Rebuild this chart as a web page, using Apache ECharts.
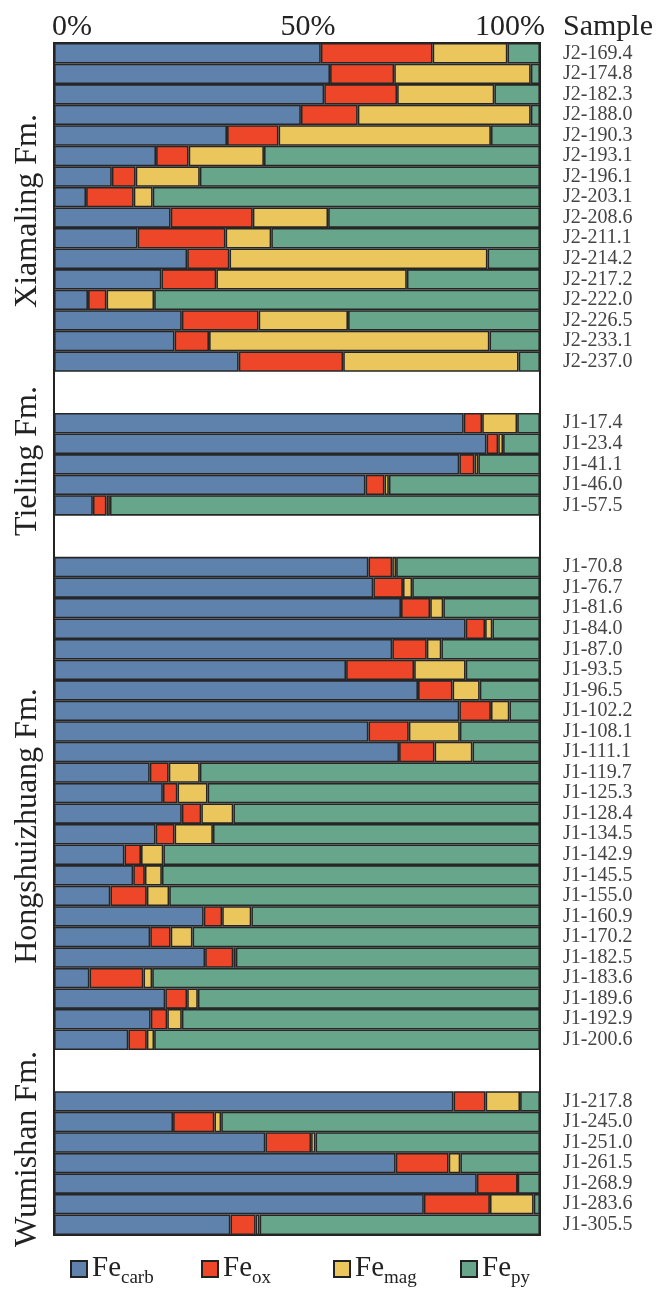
<!DOCTYPE html>
<html>
<head>
<meta charset="utf-8">
<script src="https://cdn.jsdelivr.net/npm/echarts@6/dist/echarts.min.js"></script>
<style>
html,body{margin:0;padding:0;background:#fff;}
#chart{width:660px;height:1290px;}
</style>
</head>
<body>
<div id="chart"></div>
<script>
// Sample names (blank entries are the gaps between formations)
const samples = [
  'J2-169.4','J2-174.8','J2-182.3','J2-188.0','J2-190.3','J2-193.1','J2-196.1','J2-203.1',
  'J2-208.6','J2-211.1','J2-214.2','J2-217.2','J2-222.0','J2-226.5','J2-233.1','J2-237.0',
  ' ','  ',
  'J1-17.4','J1-23.4','J1-41.1','J1-46.0','J1-57.5',
  '   ','    ',
  'J1-70.8','J1-76.7','J1-81.6','J1-84.0','J1-87.0','J1-93.5','J1-96.5','J1-102.2',
  'J1-108.1','J1-111.1','J1-119.7','J1-125.3','J1-128.4','J1-134.5','J1-142.9','J1-145.5',
  'J1-155.0','J1-160.9','J1-170.2','J1-182.5','J1-183.6','J1-189.6','J1-192.9','J1-200.6',
  '     ','      ',
  'J1-217.8','J1-245.0','J1-251.0','J1-261.5','J1-268.9','J1-283.6','J1-305.5'
];

// Fe speciation (% of highly reactive Fe)
const feCarb = [
  54.9,56.8,55.6,50.8,35.6,21.0,11.9,6.6,24.0,17.2,27.4,22.1,7.0,26.3,24.8,38.0,
  null,null,
  84.3,89.0,83.4,64.1,8.0,
  null,null,
  64.7,65.7,71.4,84.7,69.6,60.1,74.9,83.4,64.7,71.0,19.7,22.4,26.3,20.9,14.5,16.3,
  11.6,30.8,19.8,31.1,7.3,22.9,19.9,15.3,
  null,null,
  82.2,24.5,43.5,70.3,87.0,76.1,36.3
];
const feOx = [
  23.0,13.2,15.0,11.7,10.6,6.7,4.9,9.8,16.9,18.1,8.7,11.3,3.8,15.8,7.1,21.5,
  null,null,
  3.8,2.4,3.1,3.9,2.8,
  null,null,
  4.9,6.1,6.0,4.0,7.1,14.0,7.1,6.5,8.3,7.3,3.9,3.0,4.0,3.9,3.4,2.4,
  7.5,3.8,4.2,5.8,11.1,4.5,3.4,3.8,
  null,null,
  6.6,8.5,9.4,10.9,8.4,13.6,5.2
];
const feMag = [
  15.4,28.1,20.0,35.6,43.7,15.5,13.2,3.9,15.5,9.4,53.1,39.2,9.8,18.4,57.7,36.1,
  null,null,
  7.2,1.0,0.8,0.9,0.7,
  null,null,
  0.8,1.9,2.7,1.5,3.0,10.6,5.6,3.8,10.5,7.8,6.4,6.2,6.6,7.9,4.6,3.5,
  4.6,6.0,4.5,0.5,1.8,2.2,3.0,1.5,
  null,null,
  7.1,1.4,0.9,2.4,0,9.0,0.8
];
const fePy = [
  6.7,1.9,9.4,1.9,10.1,56.8,70.0,79.7,43.6,55.3,10.8,27.4,79.4,39.5,10.4,4.4,
  null,null,
  4.7,7.6,12.7,31.1,88.5,
  null,null,
  29.6,26.3,19.9,9.8,20.3,15.3,12.4,6.3,16.5,13.9,70.0,68.4,63.1,67.3,77.5,77.8,
  76.3,59.4,71.5,62.6,79.8,70.4,73.7,79.4,
  null,null,
  4.1,65.6,46.2,16.4,4.6,1.3,57.7
];

const seriesNames = ['Fecarb','Feox','Femag','Fepy'];
const seriesColors = ['#5f82ad','#ee4629','#eac65c','#67a68a'];
const seriesData = [feCarb, feOx, feMag, fePy];

const xTickLabels = {0:'{a|0%}', 50:'{b|50%}', 100:'{c|100%}'};

const formations = [
  {name:'Xiamaling Fm.', y:211},
  {name:'Tieling Fm.', y:461},
  {name:'Hongshuizhuang Fm.', y:826},
  {name:'Wumishan Fm.', y:1149}
];

const SERIF = '"Liberation Serif", "DejaVu Serif", serif';

const chart = echarts.init(document.getElementById('chart'), null, {renderer:'canvas'});

const legendLefts = [65, 196, 328, 455];

const option = {
  backgroundColor:'#ffffff',
  animation:false,
  grid:{left:54, top:43, width:486, height:1192, show:true, borderColor:'#222', borderWidth:2, backgroundColor:'transparent'},
  xAxis:{
    type:'value', position:'top', min:0, max:100, interval:50,
    axisLine:{show:false}, axisTick:{show:false}, splitLine:{show:false},
    axisLabel:{
      margin:1, color:'#222', fontFamily:SERIF, fontSize:30, verticalAlign:'bottom',
      formatter:function(v){ return xTickLabels[v] || ''; },
      rich:{
        a:{fontFamily:SERIF, fontSize:30, color:'#222', padding:[0,0,0,36]},
        b:{fontFamily:SERIF, fontSize:30, color:'#222', padding:[0,0,0,22]},
        c:{fontFamily:SERIF, fontSize:30, color:'#222', padding:[0,60,0,0]}
      }
    }
  },
  yAxis:{
    type:'category', data:samples, inverse:true, position:'right',
    axisLine:{show:false}, axisTick:{show:false}, splitLine:{show:false},
    axisLabel:{margin:23, color:'#444', fontFamily:SERIF, fontSize:20, interval:0}
  },
  legend: seriesNames.map(function(n, i){
    return {
      data:[n], left:legendLefts[i], top:1249, icon:'rect', itemWidth:16, itemHeight:16,
      itemStyle:{borderColor:'#222', borderWidth:2},
      formatter:function(name){ return '{fe|Fe}{sub|' + name.slice(2) + '}'; },
      textStyle:{
        rich:{
          fe:{fontFamily:SERIF, fontSize:29, color:'#222', lineHeight:30, verticalAlign:'top'},
          sub:{fontFamily:SERIF, fontSize:19, color:'#222', lineHeight:20, verticalAlign:'top', padding:[15,0,0,0]}
        }
      },
      selectedMode:false
    };
  }),
  series: seriesNames.map(function(n, i){
    return {
      name:n, type:'bar', stack:'fe', data:seriesData[i],
      barCategoryGap:'0%', barWidth:'100%',
      itemStyle:{color:seriesColors[i], borderColor:'#262626', borderWidth:1.6},
      emphasis:{disabled:true}
    };
  }),
  graphic: formations.map(function(f){
    return {
      type:'text', x:28, y:f.y, rotation:Math.PI/2,
      style:{text:f.name, font:'32px ' + SERIF, fill:'#222', align:'center', verticalAlign:'middle'}
    };
  }).concat([{
    type:'text', x:563, y:42,
    style:{text:'Sample', font:'30px ' + SERIF, fill:'#222', align:'left', verticalAlign:'bottom'}
  }])
};
chart.setOption(option);
</script>
</body>
</html>
